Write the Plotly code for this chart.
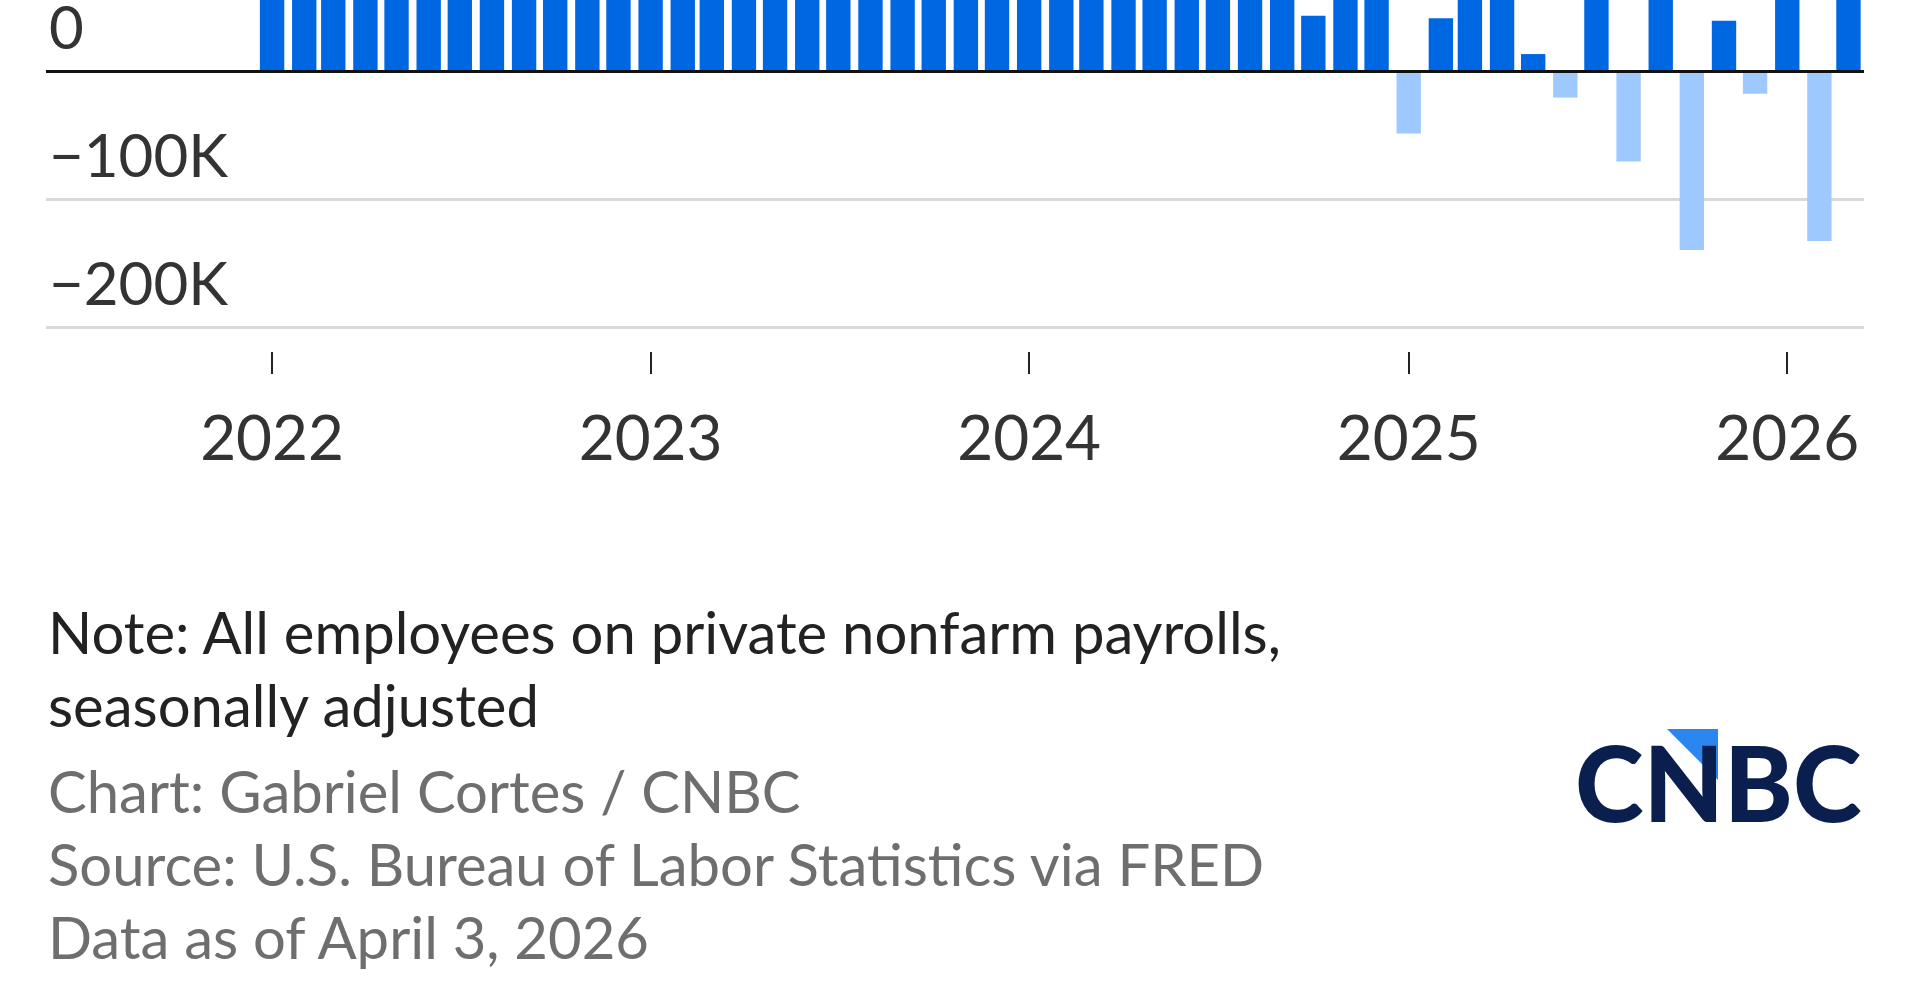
import plotly.graph_objects as go
import pandas as pd

# ---- data (monthly change in private payrolls, jobs) ----
months = pd.date_range("2022-01-01", "2026-03-01", freq="MS").strftime("%Y-%m-%d").tolist()
values_2022 = [420000, 700000, 390000, 320000, 370000, 380000, 480000, 320000, 300000, 290000, 280000, 220000]
values_2023 = [330000, 230000, 160000, 200000, 240000, 130000, 170000, 140000, 190000, 110000, 160000, 190000]
values_2024 = [150000, 200000, 220000, 110000, 170000, 100000, 90000, 70000, 190000, 44000, 200000, 250000]
values_2025 = [-48000, 42000, 120000, 130000, 14000, -20000, 70000, -70000, 90000, -139000, 40000, -17000]
values_2026 = [150000, -132000, 120000]
values = values_2022 + values_2023 + values_2024 + values_2025 + values_2026

year_ticks = ["2022-01-01", "2023-01-01", "2024-01-01", "2025-01-01", "2026-01-01"]
year_labels = ["2022", "2023", "2024", "2025", "2026"]
y_ticks = [0, -100000, -200000]
y_labels = ["0", "\u2212100K", "\u2212200K"]

POS = "#0067E3"
NEG = "#9DC9FF"
colors = [POS if v >= 0 else NEG for v in values]

FONT = "Lato"
W, H = 1910, 1000
L, R, T = 46, 46, 0
PLOT_H = 351
B = H - PLOT_H - T

fig = go.Figure(
    go.Bar(
        x=months,
        y=values,
        marker=dict(color=colors, line=dict(width=0)),
        width=23.5 * 86400000,
        hoverinfo="x+y",
    )
)

fig.update_layout(
    width=W,
    height=H,
    margin=dict(l=L, r=R, t=T, b=B, autoexpand=False),
    paper_bgcolor="white",
    plot_bgcolor="white",
    showlegend=False,
    font=dict(family=FONT, color="#333333"),
)

fig.update_xaxes(
    type="date",
    range=["2021-05-28", "2026-03-16"],
    tickmode="array",
    tickvals=year_ticks,
    ticktext=year_labels,
    ticks="outside",
    ticklen=22,
    tickwidth=2,
    tickcolor="#222222",
    tickfont=dict(family=FONT, size=62, color="#333333"),
    ticklabelstandoff=12,
    showgrid=False,
    showline=False,
    zeroline=False,
    automargin=False,
)

fig.update_yaxes(
    range=[-218000, 56250],
    tickmode="array",
    tickvals=y_ticks,
    ticktext=y_labels,
    ticks="",
    ticklabelposition="inside top",
    ticklabeloverflow="allow",
    ticklabelshift=-2,
    tickfont=dict(family=FONT, size=60, color="#333333"),
    showgrid=True,
    gridcolor="#d9d9d9",
    gridwidth=3,
    zeroline=True,
    zerolinecolor="#111111",
    zerolinewidth=3,
    zerolinelayer="above traces",
    showline=False,
    automargin=False,
)


def py(px):
    return 1 - px / PLOT_H


def pxx(px):
    return (px - L) / (W - L - R)


footer = [
    ("Note: All employees on private nonfarm payrolls,", 631, "#222222"),
    ("seasonally adjusted", 704, "#222222"),
    ("Chart: Gabriel Cortes / CNBC", 790, "#6e6e6e"),
    ("Source: U.S. Bureau of Labor Statistics via FRED", 863, "#6e6e6e"),
    ("Data as of April 3, 2026", 936, "#6e6e6e"),
]
for txt, ypx, col in footer:
    fig.add_annotation(
        text=txt, xref="paper", yref="paper", x=0, y=py(ypx),
        xanchor="left", yanchor="middle", showarrow=False,
        font=dict(family=FONT, size=58, color=col),
    )

# CNBC logo
fig.add_annotation(
    text="CNBC", xref="paper", yref="paper", x=1.0, y=py(781),
    xanchor="right", yanchor="middle", showarrow=False,
    font=dict(family=FONT, size=104, color="#0B1F4F", weight=900),
)
fig.add_shape(
    type="path", xref="paper", yref="paper",
    path=f"M {pxx(1667)} {py(729)} L {pxx(1718)} {py(729)} L {pxx(1718)} {py(780)} Z",
    fillcolor="#2B86F0", line=dict(width=0), layer="above",
)

fig.write_html("out.html")
